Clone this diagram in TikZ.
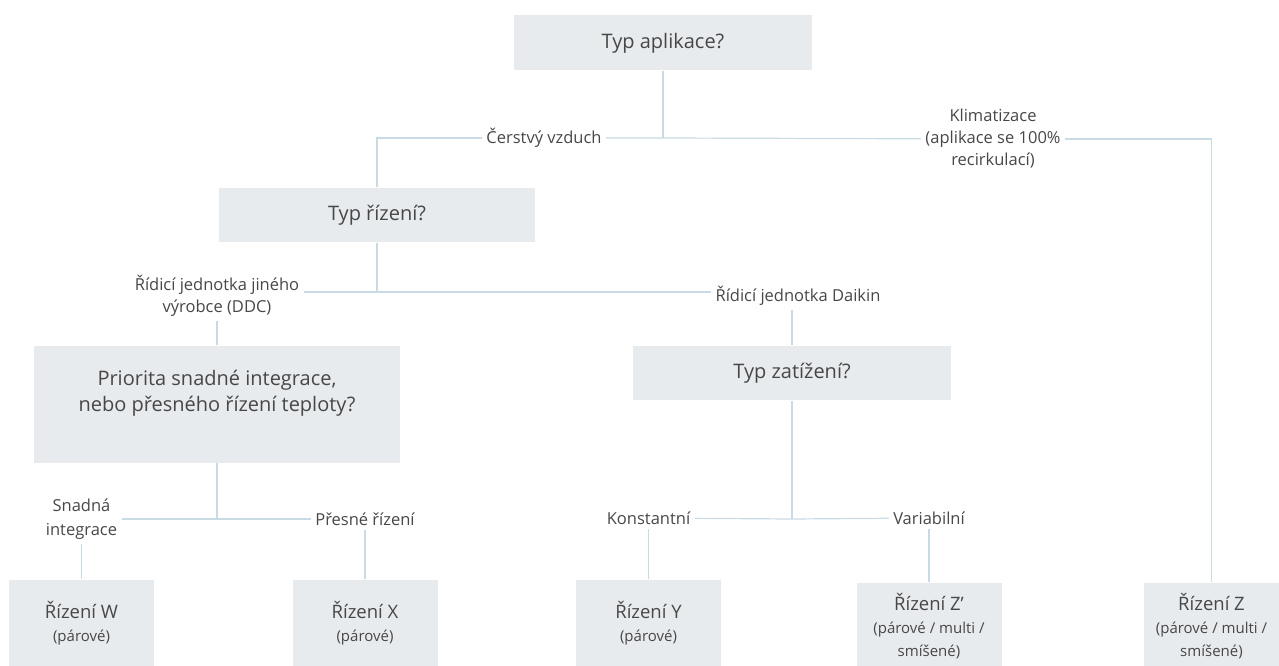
\documentclass[tikz,border=0pt]{standalone}
\usepackage{fontspec}
\setmainfont{Open Sans}
\usepackage{tikz}
\definecolor{boxgrey}{HTML}{E8EBEE}
\definecolor{linkblue}{HTML}{C8DAE3}
\definecolor{inkgrey}{HTML}{474747}
\tikzstyle{quest}=[fill=boxgrey, inner sep=0pt, text=inkgrey, font=\fontsize{20}{26}\selectfont, align=center]
\tikzstyle{result}=[fill=boxgrey, inner sep=0pt, text=inkgrey, font=\fontsize{18.5}{23}\selectfont, align=center, minimum width=145, minimum height=86]
\tikzstyle{answer}=[inner sep=4pt, text=inkgrey, font=\fontsize{16.5}{22}\selectfont, align=center]
\newcommand{\sub}[1]{{\fontsize{15}{22}\selectfont #1}}

\begin{document}
\begin{tikzpicture}[x=1pt, y=-1pt, linkblue, line width=1.2pt]
                    \useasboundingbox (0,0) rectangle (1279,666);
                    \node[quest, minimum width=298, minimum height=55] (0) at (663,43) {Typ aplikace?};
                    \node[quest, minimum width=316, minimum height=54] (1) at (377,215) {Typ řízení?};
                    \node[quest, minimum width=366, minimum height=117, text depth=26pt] (2) at (217,404) {Priorita snadné integrace,\\nebo přesného řízení teploty?};
                    \node[quest, minimum width=318, minimum height=54] (3) at (792,373) {Typ zatížení?};
                    \node[result] (W) at (81.5,623) {Řízení W\\\sub{(párové)}};
                    \node[result] (X) at (365,623) {Řízení X\\\sub{(párové)}};
                    \node[result] (Y) at (648.5,623) {Řízení Y\\\sub{(párové)}};
                    \node[result] (Z1) at (929,626) {Řízení Z’\\\sub{(párové / multi /}\\\sub{smíšené)}};
                    \node[result, minimum width=135] (Z) at (1211.5,626) {Řízení Z\\\sub{(párové / multi /}\\\sub{smíšené)}};
                    \node[answer] (11) at (544,138) {Čerstvý vzduch};
                    \node[answer] (12) at (993,139) {Klimatizace\\(aplikace se 100\%\\recirkulací)};
                    \node[answer] (21) at (217,296) {Řídicí jednotka jiného\\výrobce (DDC)};
                    \node[answer] (22) at (798,296) {Řídicí jednotka Daikin};
                    \node[answer, font=\fontsize{16.5}{24}\selectfont] (31) at (81.5,519) {Snadná\\integrace};
                    \node[answer] (32) at (365,519) {Přesné řízení};
                    \node[answer] (41) at (648.5,518) {Konstantní};
                    \node[answer] (42) at (929,518) {Variabilní};
                    \coordinate (a) at (663,138);
                    \coordinate (b) at (377,292);
                    \coordinate (c) at (217,519);
                    \coordinate (d) at (792,519);
                    \draw (0) -- (a);
                    \draw (11) -- (a) -- (12);
                    \draw (11) -| (1);
                    \draw (12) -| (Z);
                    \draw (1) -- (b);
                    \draw (21.east |- b) -- (b) -- (22.west |- b);
                    \draw (21) -- (2);
                    \draw (22.south -| 3) -- (3);
                    \draw (2) -- (c);
                    \draw (31) -- (c) -- (32);
                    \draw (31) -- (W);
                    \draw (32) -- (X);
                    \draw (3) -- (d);
                    \draw (41) -- (d) -- (42);
                    \draw (41) -- (Y);
                    \draw (42) -- (Z1);
                \end{tikzpicture}
\end{document}
